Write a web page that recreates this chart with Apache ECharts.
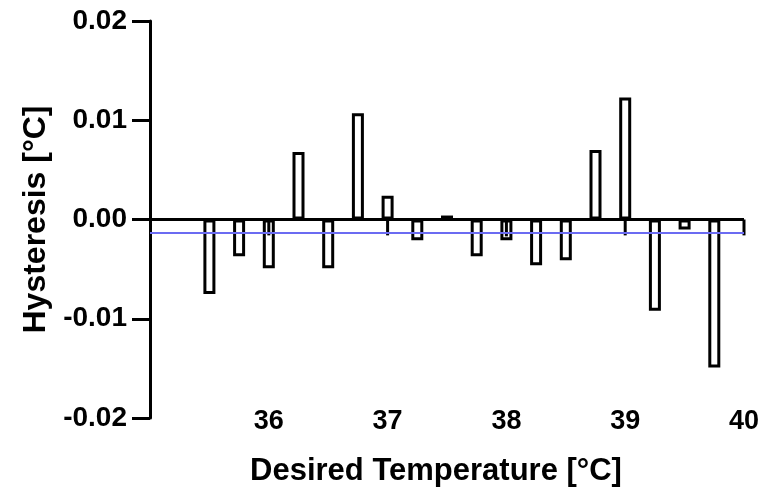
<!DOCTYPE html>
<html>
<head>
<meta charset="utf-8">
<script src="https://cdn.jsdelivr.net/npm/echarts@6/dist/echarts.min.js"></script>
<style>
  html, body { margin: 0; padding: 0; background: #fff; }
  #chart { width: 763px; height: 496px; }
</style>
</head>
<body>
<div id="chart"></div>
<script>
// desired temperatures (°C) of the hysteresis bars
const temps = [35.5, 35.75, 36, 36.25, 36.5, 36.75, 37, 37.25, 37.5, 37.75,
  38, 38.25, 38.5, 38.75, 39, 39.25, 39.5, 39.75];
const hysteresis = [-0.0075, -0.0037, -0.0049, 0.0068, -0.0049, 0.0107, 0.0024, -0.0021, 0.0004, -0.0037,
  -0.0021, -0.0046, -0.0041, 0.0070, 0.0123, -0.0092, -0.0010, -0.0149];
// thin bars at whole degrees
const wholeTemps = [36, 37, 38, 39, 40];
const wholeValues = [-0.0016, -0.0016, -0.0017, -0.0016, -0.0016];
const meanLine = -0.0013;
const yTicks = [-0.02, -0.01, 0, 0.01, 0.02];

const font = "'Liberation Sans', Arial, sans-serif";
const chart = echarts.init(document.getElementById("chart"));

chart.setOption({
  animation: false,
  grid: { left: 150, right: 19, top: 21, bottom: 78 },
  xAxis: [
    {
      type: "value",
      min: 35,
      max: 40,
      interval: 1,
      axisLine: { show: false, onZero: false },
      axisTick: { show: false },
      splitLine: { show: false },
      axisLabel: {
        showMinLabel: false,
        margin: -10,
        color: "#000",
        fontSize: 27,
        fontWeight: "bold",
        fontFamily: font,
      },
      name: "Desired Temperature [°C]",
      nameLocation: "middle",
      nameGap: 38,
      nameTextStyle: {
        color: "#000",
        fontSize: 31,
        fontWeight: "bold",
        fontFamily: font,
        padding: [0, 22, 0, 0],
      },
    },
    { type: "value", min: 35, max: 40, show: false },
  ],
  yAxis: {
    type: "value",
    min: yTicks[0],
    max: yTicks[yTicks.length - 1],
    interval: 0.01,
    axisLine: { show: true, lineStyle: { color: "#000", width: 3 } },
    axisTick: { show: true, length: 18, lineStyle: { color: "#000", width: 3 } },
    splitLine: { show: false },
    axisLabel: {
      margin: 23,
      color: "#000",
      fontSize: 28,
      fontWeight: "bold",
      fontFamily: font,
      formatter: (v) => v.toFixed(2),
    },
    name: "Hysteresis [°C]",
    nameLocation: "middle",
    nameGap: 93,
    nameTextStyle: {
      color: "#000",
      fontSize: 32,
      fontWeight: "bold",
      fontFamily: font,
    },
  },
  series: [
    {
      type: "bar",
      xAxisIndex: 0,
      barWidth: 12,
      data: temps.map((t, i) => [t, hysteresis[i]]),
      itemStyle: { color: "#fff", borderColor: "#000", borderWidth: 3 },
      markLine: {
        silent: true,
        symbol: "none",
        precision: 6,
        label: { show: false },
        data: [
          { yAxis: 0, lineStyle: { color: "#000", width: 3, type: "solid" } },
          { yAxis: meanLine, lineStyle: { color: "#6b6bf2", width: 2, type: "solid" } },
        ],
      },
    },
    {
      type: "bar",
      xAxisIndex: 1,
      barWidth: 3,
      clip: false,
      data: wholeTemps.map((t, i) => [t, wholeValues[i]]),
      itemStyle: { color: "#000" },
    },
  ],
});
</script>
</body>
</html>
